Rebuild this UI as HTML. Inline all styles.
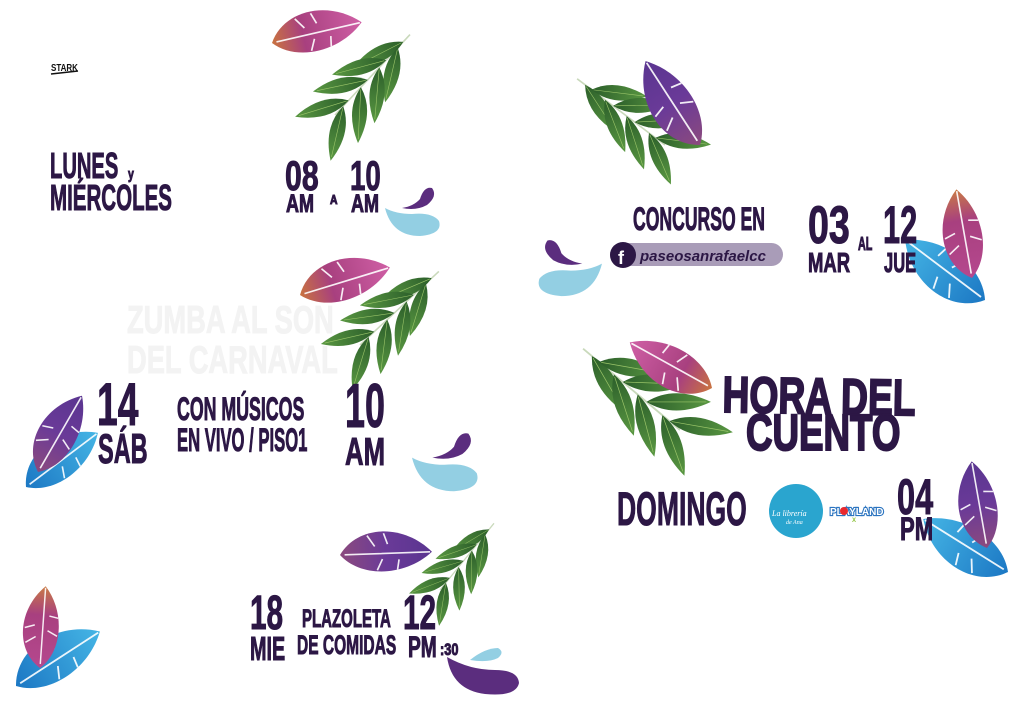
<!DOCTYPE html>
<html><head><meta charset="utf-8"><style>
html,body{margin:0;padding:0;background:#fff;}
#c{position:relative;width:1024px;height:702px;overflow:hidden;background:#fff;}
.t{position:absolute;font-family:"Liberation Sans",sans-serif;font-weight:bold;color:#2c1745;line-height:1;white-space:nowrap;transform-origin:0 0;-webkit-text-stroke:1px #2c1745;}
svg{position:absolute;left:0;top:0;}
</style></head><body><div id="c">
<svg width="1024" height="702" viewBox="0 0 1024 702">
<defs>
<linearGradient id="gG" x1="0" y1="0" x2="1" y2="0"><stop offset="0" stop-color="#2b5e2a"/><stop offset="1" stop-color="#5a9842"/></linearGradient>
<linearGradient id="gOP" x1="0" y1="0" x2="1" y2="0"><stop offset="0" stop-color="#c9733f"/><stop offset="0.35" stop-color="#a8407f"/><stop offset="1" stop-color="#cf5fa5"/></linearGradient>
<linearGradient id="gPO" x1="0" y1="0" x2="1" y2="0"><stop offset="0" stop-color="#b5488e"/><stop offset="0.65" stop-color="#a8407f"/><stop offset="1" stop-color="#c97a45"/></linearGradient>
<linearGradient id="gPu" x1="0" y1="0" x2="1" y2="0"><stop offset="0" stop-color="#8b4a7e"/><stop offset="0.5" stop-color="#6a3a98"/><stop offset="1" stop-color="#5a3590"/></linearGradient>
<linearGradient id="gB" x1="0" y1="0" x2="1" y2="0"><stop offset="0" stop-color="#1c78c4"/><stop offset="1" stop-color="#45b5e5"/></linearGradient>
<g id="leaf"><path d="M0,0 Q24,-15 56,0 Q24,15 0,0Z" fill="url(#gG)"/><path d="M2,0 L52,0" stroke="#9cc66a" stroke-width="0.6"/></g>
<g id="branch">
<path d="M0,0 L110,0" stroke="#c9d9bb" stroke-width="1.6"/>
<use href="#leaf" transform="translate(100,0) rotate(-160)"/>
<use href="#leaf" transform="translate(92,0) rotate(150)"/>
<use href="#leaf" transform="translate(75,0) rotate(-148)"/>
<use href="#leaf" transform="translate(65,0) rotate(142)"/>
<use href="#leaf" transform="translate(48,0) rotate(-145)"/>
<use href="#leaf" transform="translate(38,0) rotate(140)"/>
<use href="#leaf" transform="translate(20,0) rotate(-150)"/>
<use href="#leaf" transform="translate(12,0) rotate(150)"/>
</g>
<path id="fshape" d="M0,0 C20,-32 70,-32 100,0 C70,26 22,26 0,0Z"/>
<g id="notch"><path d="M30,-20 L38,-8 M48,-22 L52,-10 M40,18 L46,6 M62,18 L64,7 M5,0 L98,0" stroke="#fff" stroke-width="1.8" fill="none" opacity="0.9"/></g>
<g id="fOP"><use href="#fshape" fill="url(#gOP)"/><use href="#notch"/></g>
<g id="fPO"><use href="#fshape" fill="url(#gPO)"/><use href="#notch"/></g>
<g id="fPu"><use href="#fshape" fill="url(#gPu)"/><use href="#notch"/></g>
<g id="fB"><use href="#fshape" fill="url(#gB)"/><use href="#notch"/></g>
<g id="drops">
<path d="M385,208 Q392,236 420,236 Q443,234 439,221 Q432,212 412,214 Q396,214 385,208Z" fill="#93cfe3"/>
<path d="M402,208 Q414,206 420,199 Q424,186 432,188 Q438,196 427,205 Q416,211 402,208Z" fill="#5b2d7e"/>
</g>
</defs>

<use href="#fOP" transform="translate(272,43) rotate(-13) scale(0.92)"/>
<use href="#branch" transform="translate(335,115) rotate(-47)"/>
<use href="#fOP" transform="translate(300,295) rotate(-17) scale(0.94)"/>
<use href="#branch" transform="translate(360,345) rotate(-43) scale(0.98)"/>
<use href="#fPu" transform="translate(340,555) rotate(-2) scale(0.92)"/>
<use href="#branch" transform="translate(440,590) rotate(-51) scale(0.78)"/>
<use href="#branch" transform="translate(665,145) rotate(-143)"/>
<use href="#fPu" transform="translate(700,145) rotate(-123)"/>
<use href="#branch" transform="translate(680,430) rotate(-140) scale(1.15)"/>
<use href="#fOP" transform="translate(712,388) rotate(-151) scale(0.94)"/>

<use href="#fB" transform="translate(985,300) rotate(-143)"/>
<use href="#fPO" transform="translate(972,278) rotate(-100) scale(0.9)"/>
<use href="#fB" transform="translate(1008,572) rotate(-148)"/>
<use href="#fPu" transform="translate(987,548) rotate(-100) scale(0.88)"/>
<use href="#fB" transform="translate(26,487) rotate(-37) scale(0.9)"/>
<use href="#fPu" transform="translate(38,472) rotate(-60) scale(0.88)"/>
<use href="#fB" transform="translate(16,686) rotate(-33)"/>
<use href="#fPO" transform="translate(40,668) rotate(-86) scale(0.82)"/>

<use href="#drops"/>
<use href="#drops" transform="translate(412,430) scale(1.2) translate(-385,-185)"/>
<use href="#drops" transform="translate(602,237) scale(-1.16,1.16) translate(-385,-185)"/>
<path d="M470,660 Q485,648 498,648 Q505,652 498,658 Q488,663 470,660Z" fill="#93cfe3"/>
<path d="M447,657 Q452,690 485,694 Q516,697 519,683 Q518,670 495,670 Q470,670 447,657Z" fill="#5b2d7e"/>

<rect x="610" y="243" width="173" height="23" rx="11.5" fill="#a99cb8"/>
<circle cx="623" cy="255" r="13" fill="#2c1745"/>
<text x="618" y="264" font-family="Liberation Sans,sans-serif" font-weight="bold" font-size="18" fill="#fff">f</text>
<text x="640" y="261" font-family="Liberation Sans,sans-serif" font-weight="bold" font-style="italic" font-size="15" fill="#2c1745">paseosanrafaelcc</text>

<circle cx="796" cy="511" r="27" fill="#2aa5cf"/>
<text x="772" y="516" font-family="Liberation Serif,serif" font-style="italic" font-size="8" fill="#fff">La librería</text>
<text x="786" y="524" font-family="Liberation Serif,serif" font-style="italic" font-size="6" fill="#fff">de Ana</text>
<text x="830" y="515" font-family="Liberation Sans,sans-serif" font-weight="bold" font-size="10" fill="#fff" stroke="#2b74c0" stroke-width="2.2" paint-order="stroke">PLAYLAND</text>
<circle cx="844" cy="511" r="4" fill="#e9282d"/>
<text x="852" y="522" font-family="Liberation Sans,sans-serif" font-weight="bold" font-size="6" fill="#8fc23e">X</text>

<text x="51" y="71" font-family="Liberation Sans,sans-serif" font-weight="bold" font-size="10" fill="#111" transform="translate(51,71) scale(0.8,1) translate(-51,-71)">STARK</text>
<path d="M51,74 L78,71" stroke="#111" stroke-width="1.5"/>
</svg>

<div class="t" style="left:127px;top:301px;font-size:39px;color:#f3f3f3;-webkit-text-stroke:1px #f3f3f3;transform:scaleX(0.7)">ZUMBA AL SON</div>
<div class="t" style="left:127px;top:341px;font-size:39px;color:#f3f3f3;-webkit-text-stroke:1px #f3f3f3;transform:scaleX(0.7)">DEL CARNAVAL</div>

<div class="t" style="left:50px;top:148px;font-size:36px;transform:scaleX(0.56)">LUNES</div>
<div class="t" style="left:128px;top:167px;font-size:15px;transform:scaleX(0.7)">y</div>
<div class="t" style="left:50px;top:180px;font-size:36px;transform:scaleX(0.57)">MIÉRCOLES</div>
<div class="t" style="left:285px;top:155px;font-size:42px;transform:scaleX(0.72)">08</div>
<div class="t" style="left:286px;top:192px;font-size:25px;transform:scaleX(0.72)">AM</div>
<div class="t" style="left:330px;top:193px;font-size:13px;transform:scaleX(0.8)">A</div>
<div class="t" style="left:350px;top:155px;font-size:42px;transform:scaleX(0.66)">10</div>
<div class="t" style="left:351px;top:192px;font-size:25px;transform:scaleX(0.72)">AM</div>

<div class="t" style="left:97px;top:375px;font-size:60px;transform:scaleX(0.62)">14</div>
<div class="t" style="left:98px;top:428px;font-size:42px;transform:scaleX(0.56)">SÁB</div>
<div class="t" style="left:177px;top:393px;font-size:32px;transform:scaleX(0.555)">CON MÚSICOS</div>
<div class="t" style="left:177px;top:424px;font-size:32px;transform:scaleX(0.52)">EN VIVO / PISO1</div>
<div class="t" style="left:345px;top:376px;font-size:62px;transform:scaleX(0.58)">10</div>
<div class="t" style="left:345px;top:433px;font-size:39px;transform:scaleX(0.66)">AM</div>

<div class="t" style="left:250px;top:590px;font-size:48px;transform:scaleX(0.62)">18</div>
<div class="t" style="left:250px;top:632px;font-size:33px;transform:scaleX(0.6)">MIE</div>
<div class="t" style="left:302px;top:607px;font-size:25px;transform:scaleX(0.6)">PLAZOLETA</div>
<div class="t" style="left:297px;top:632px;font-size:27px;transform:scaleX(0.575)">DE COMIDAS</div>
<div class="t" style="left:403px;top:590px;font-size:48px;transform:scaleX(0.62)">12</div>
<div class="t" style="left:408px;top:633px;font-size:30px;transform:scaleX(0.64)">PM</div>
<div class="t" style="left:440px;top:641px;font-size:17px;transform:scaleX(0.75)">:30</div>

<div class="t" style="left:633px;top:203px;font-size:32px;transform:scaleX(0.55)">CONCURSO EN</div>
<div class="t" style="left:808px;top:199px;font-size:53px;transform:scaleX(0.71)">03</div>
<div class="t" style="left:808px;top:249px;font-size:28px;transform:scaleX(0.66)">MAR</div>
<div class="t" style="left:858px;top:235px;font-size:18px;transform:scaleX(0.6)">AL</div>
<div class="t" style="left:883px;top:199px;font-size:53px;transform:scaleX(0.58)">12</div>
<div class="t" style="left:884px;top:249px;font-size:28px;transform:scaleX(0.59)">JUE</div>

<div class="t" style="left:723px;top:369px;font-size:51px;-webkit-text-stroke:2px #2c1745;transform:rotate(1deg) scaleX(0.73)">HORA DEL</div>
<div class="t" style="left:746px;top:407px;font-size:51px;-webkit-text-stroke:2px #2c1745;transform:scaleX(0.72)">CUENTO</div>
<div class="t" style="left:617px;top:485px;font-size:47px;transform:scaleX(0.565)">DOMINGO</div>
<div class="t" style="left:897px;top:472px;font-size:50px;transform:scaleX(0.65)">04</div>
<div class="t" style="left:900px;top:513px;font-size:32px;transform:scaleX(0.69)">PM</div>
</div></body></html>
